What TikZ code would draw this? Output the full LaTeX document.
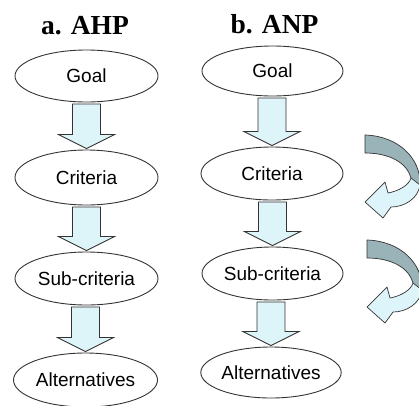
\documentclass[tikz,border=0pt]{standalone}
\usepackage{fontspec}
\setmainfont{Liberation Sans}
\newfontfamily\titlefont{Liberation Serif}
\usetikzlibrary{shapes.geometric,calc}
\definecolor{arrfill}{HTML}{DDF4F9}
\definecolor{curvdark}{HTML}{9AB3B9}
\definecolor{curvlight}{HTML}{DDF5FA}
\definecolor{edgecol}{HTML}{333333}
\tikzset{
 lvl/.style={ellipse, draw=edgecol, line width=0.9pt, fill=white, inner sep=0pt, font=\fontsize{19}{22}\selectfont},
 ttl/.style={anchor=base, font=\titlefont\bfseries\fontsize{27.5}{30}\selectfont},
 barrow/.style={draw=edgecol, line width=0.8pt, fill=arrfill, line join=miter},
 curv/.style={draw=edgecol, line width=0.7pt, line join=round},
}
\newcommand{\blockarr}[2]{%
 \draw[barrow] let \p1=(#1.south), \p2=(#2.north) in
 (\x2-14pt,\y1-1.5pt) -- (\x2+14pt,\y1-1.5pt) -- (\x2+14pt,\y2+15pt) -- (\x2+28pt,\y2+15pt)
 -- (\x2,\y2+1pt) -- (\x2-28pt,\y2+15pt) -- (\x2-14pt,\y2+15pt) -- cycle;}
\newcommand{\curvarrow}{%
 \fill[curvdark] (365,135) .. controls (398,136) and (421,158) .. (420,185) -- (411,178)
   .. controls (407,163) and (390,153) .. (365,153) -- cycle;
 \fill[curvlight] (420,185) .. controls (418,199) and (404,207) .. (391,207) -- (383,218) -- (365,202)
   -- (385,182) -- (388,193) .. controls (399,191) and (409,185) .. (411,178) -- cycle;
 \draw[curv] (365,135) .. controls (398,136) and (421,158) .. (420,185)
   .. controls (418,199) and (404,207) .. (391,207) -- (383,218) -- (365,202)
   -- (385,182) -- (388,193) .. controls (399,191) and (409,185) .. (411,178)
   .. controls (407,163) and (390,153) .. (365,153) -- cycle;
 \draw[curv] (411,178) -- (420,185);}
\begin{document}
\begin{tikzpicture}[x=1pt,y=-1pt]
\useasboundingbox (0,0) rectangle (419,405);
\fill[white] (0,0) rectangle (419,405);
% titles
\node[ttl] (ta) at (85,34) {a. AHP};
\node[ttl] (tb) at (274.5,33) {b. ANP};
% AHP column
\node[lvl, minimum width=143pt, minimum height=52pt] (ag) at (86.5,76) {Goal};
\node[lvl, minimum width=143pt, minimum height=55pt] (ac) at (86.5,177.5) {Criteria};
\node[lvl, minimum width=143pt, minimum height=53pt] (as) at (86.5,278.5) {Sub-criteria};
\node[lvl, minimum width=144pt, minimum height=54pt] (aa) at (85.5,380) {Alternatives};
% ANP column
\node[lvl, minimum width=141pt, minimum height=50pt] (bg) at (272.5,71) {Goal};
\node[lvl, minimum width=142pt, minimum height=53pt] (bc) at (272,173.5) {Criteria};
\node[lvl, minimum width=141pt, minimum height=53pt] (bs) at (272.5,273.5) {Sub-criteria};
\node[lvl, minimum width=138pt, minimum height=51pt] (ba) at (271,372.5) {Alternatives};
% block arrows
\blockarr{ag}{ac}
\blockarr{ac}{as}
\blockarr{as}{aa}
\blockarr{bg}{bc}
\blockarr{bc}{bs}
\blockarr{bs}{ba}
% curved feedback arrows
\begin{scope}
\curvarrow
\end{scope}
\begin{scope}[shift={(2,105)}]
\curvarrow
\end{scope}
\end{tikzpicture}
\end{document}
